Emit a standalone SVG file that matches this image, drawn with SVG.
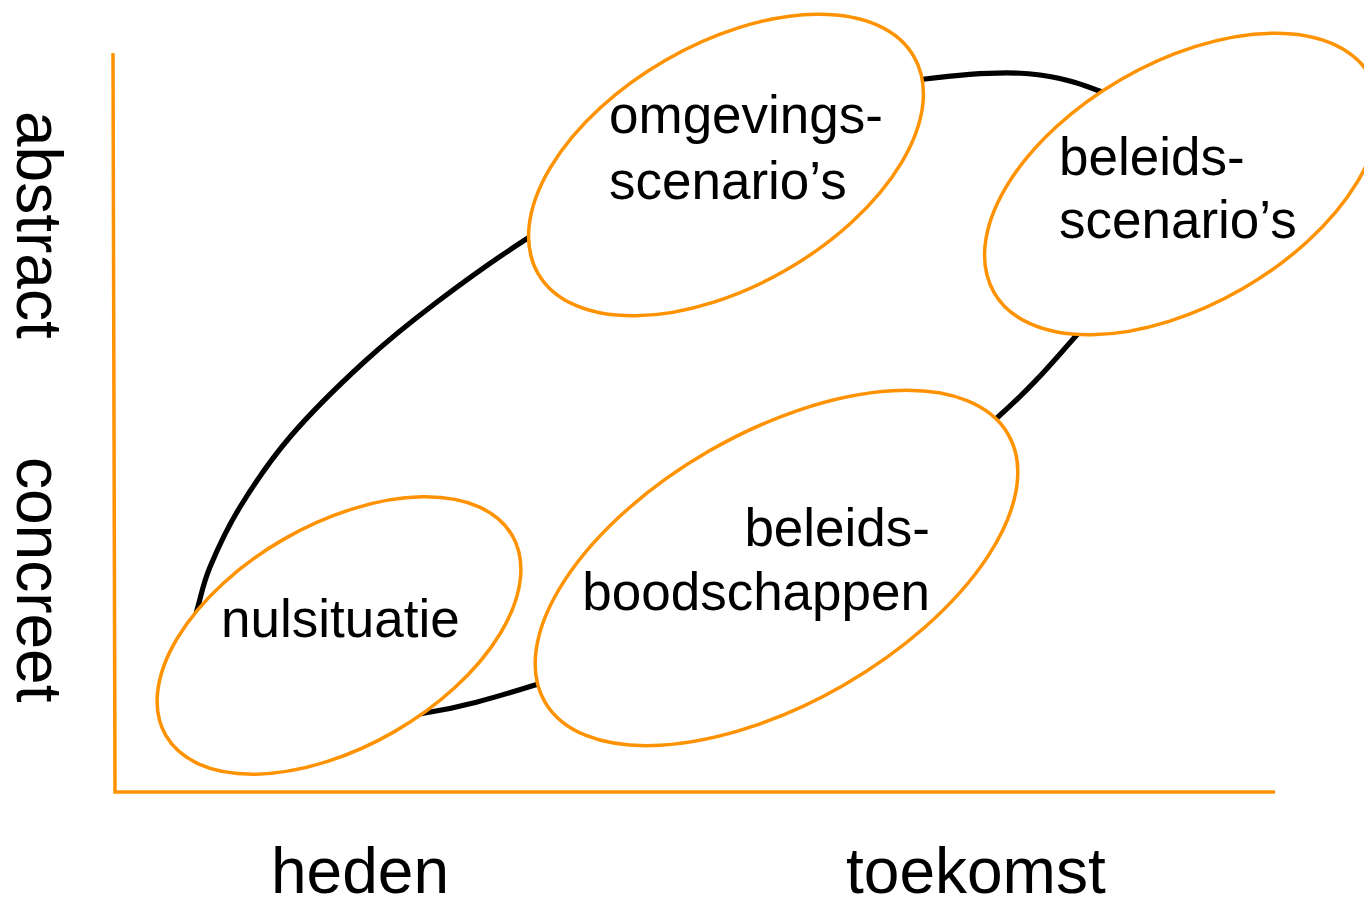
<svg xmlns="http://www.w3.org/2000/svg" width="1364" height="900" viewBox="0 0 1364 900">
<style>
.axis{fill:none;stroke:#FF9200;stroke-width:3.5}
.node ellipse{fill:#FFFFFF;stroke:#FF9200;stroke-width:3.5}
.t{font-family:"Liberation Sans",Arial,sans-serif;font-size:53px;fill:#000000}
.ax{font-family:"Liberation Sans",Arial,sans-serif;font-size:64px;fill:#000000}
.loop{fill:none;stroke:#000000;stroke-width:5.2}
</style>
<rect width="1364" height="900" fill="#FFFFFF"/>
<g id="axes">
<polyline class="axis" points="113,53 115,792 1275,792"/>
<text class="ax" transform="translate(17,111) rotate(90)">abstract</text>
<text class="ax" transform="translate(17,457) rotate(90)">concreet</text>
<text class="ax" x="271" y="893">heden</text>
<text class="ax" x="846" y="893">toekomst</text>
</g>
<g id="connectors">
<path class="loop" d="M197,610 C201.3,595.5 202.8,584.2 210,567 C217.2,549.8 226.7,528.7 240,507 C253.3,485.3 269.5,461 290,437 C310.5,413 338.5,385.5 363,363 C387.5,340.5 409.5,322.8 437,302 C464.5,281.2 490.8,261.7 528,238 C565.2,214.3 616.3,181.8 660,160 C703.7,138.2 745.8,120.5 790,107 C834.2,93.5 883.3,84.3 925,79 C966.7,73.7 1010.5,70.5 1040,75 C1069.5,79.5 1081.3,84 1102,92 C1133,104 1145,120.7 1150,150 C1155,179.3 1144.5,236.8 1132,268 C1119.5,299.2 1097.3,312.2 1075,337 C1052.7,361.8 1035.8,383.2 998,417 C960.2,450.8 898,504.8 848,540 C798,575.2 750.2,603.8 698,628 C645.8,652.2 580.5,670.8 535,685 C489.5,699.2 460.8,707.2 425,713 C389.2,718.8 355.5,724.7 320,720 C284.5,715.3 232.5,703.3 212,685 C191.5,666.7 192.8,625.5 197,610 Z"/>
</g>
<g id="omgevingsscenarios" class="node">
<ellipse cx="726" cy="165" rx="217" ry="121" transform="rotate(-30 726 165)"/>
<text class="t" x="609" y="133">omgevings-</text>
<text class="t" x="609" y="199">scenario’s</text>
</g>
<g id="beleidsscenarios" class="node">
<ellipse cx="1182" cy="184" rx="217" ry="121" transform="rotate(-30 1182 184)"/>
<text class="t" x="1059" y="175">beleids-</text>
<text class="t" x="1059" y="238">scenario’s</text>
</g>
<g id="nulsituatie" class="node">
<ellipse cx="339" cy="635.5" rx="200" ry="111" transform="rotate(-30 339 635.5)"/>
<text class="t" x="221" y="637">nulsituatie</text>
</g>
<g id="beleidsboodschappen" class="node">
<ellipse cx="776.5" cy="568" rx="267.5" ry="135" transform="rotate(-30 776.5 568)"/>
<text class="t" x="930" y="546" text-anchor="end">beleids-</text>
<text class="t" x="930" y="610" text-anchor="end">boodschappen</text>
</g>
</svg>
